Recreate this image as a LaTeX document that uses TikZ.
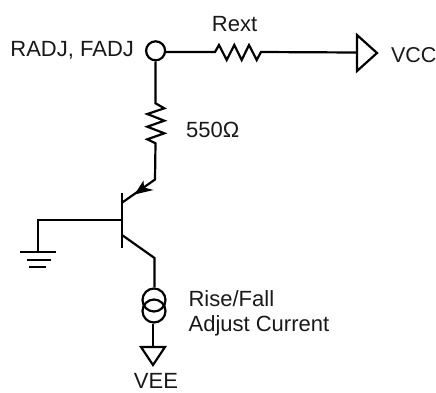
\documentclass[tikz,border=0pt]{standalone}
\usepackage{fontspec}
\setmainfont{Liberation Sans}
\usetikzlibrary{calc}
\tikzset{
  wire/.style={line width=2.2pt,line join=miter},
  lbl/.style={font=\fontsize{22}{26}\selectfont,inner sep=0pt,text=black!90}
}
\begin{document}
\begin{tikzpicture}[x=1pt,y=-1pt,wire]
\useasboundingbox (0,0) rectangle (436,392);
% pad
\node[circle,draw,line width=2.2pt,minimum size=19pt,inner sep=0pt] (pad) at (155.6,50.8) {};
\node[lbl,anchor=east] (padl) at (135,50.5) {RADJ, FADJ};
% Rext
\coordinate (rh1) at (215,52);
\coordinate (rh2) at (261,52);
\coordinate (vccb) at (357,52.5);
\draw (pad.east |- rh1) -- (rh1) -- (219,45) -- (226.7,60) -- (234.3,45) -- (241.7,60) -- (249,45) -- (256.7,60) -- (rh2) -- (vccb);
\draw (357,35) -- (377,53) -- (357,71) -- cycle;
\node[lbl] (rext) at (234.5,24.5) {Rext};
\node[lbl,anchor=west,font=\fontsize{21.5}{26}\selectfont] (vcc) at (390,55.5) {VCC};
% 550 ohm
\coordinate (rv1) at (155.5,103.3);
\coordinate (rv2) at (155.5,143.3);
\coordinate (e) at (155,179.5);
\coordinate (eb) at (122,202.7);
\draw (pad.south) -- (rv1) -- (164.3,108.3) -- (147.3,114) -- (164.3,120.7) -- (147.3,126.7) -- (164.3,133.3) -- (147.3,139.3) -- (rv2) -- (e) -- (eb);
\fill (134.5,194.5) -- (143.5,180.5) -- (144,187.5) -- (153.5,190) -- cycle;
\node[lbl,anchor=west] (ohm) at (185,129.5) {550Ω};
% transistor
\coordinate (bt) at (122,193);
\coordinate (bb) at (122,248);
\draw (bt) -- (bb);
\coordinate (b) at (122,220);
\coordinate (g) at (38,220);
\coordinate (g1) at (38,252);
\draw (b) -- (g) -- (g1);
\draw (20,252) -- (56,252);
\draw (27,260) -- (51,260);
\draw (29,267) -- (46,267);
% collector, source
\coordinate (c) at (122,235);
\coordinate (c1) at (154.5,258);
\node[circle,draw,line width=2.2pt,minimum size=23pt,inner sep=0pt] (s1) at (154,300) {};
\node[circle,draw,line width=2.2pt,minimum size=23pt,inner sep=0pt] (s2) at (154,311) {};
\draw (c) -- (c1) -- (s1.north -| c1);
\coordinate (vt) at (153,347);
\draw (s2.south -| vt) -- (vt);
\draw (141,347) -- (165,347) -- (153,365) -- cycle;
\node[lbl,anchor=west] (rf) at (187.5,299) {Rise/Fall};
\node[lbl,anchor=west] (ac) at (187.5,326) {Adjust Current};
\node[lbl] (vee) at (156,381) {VEE};
\end{tikzpicture}
\end{document}
